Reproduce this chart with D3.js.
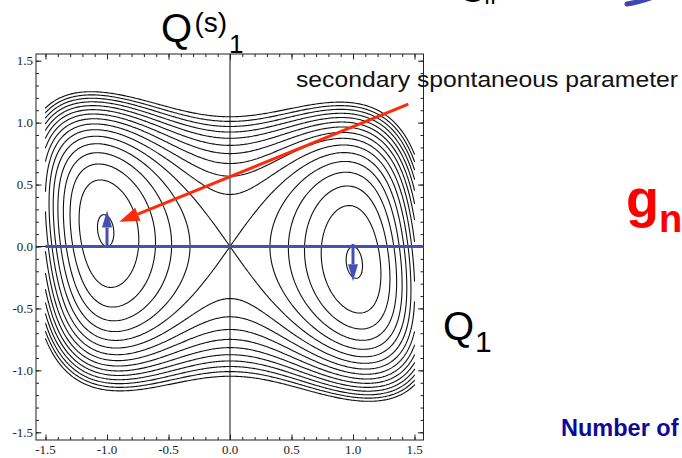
<!DOCTYPE html>
<html lang="en">
<head>
<meta charset="UTF-8">
<title>Q1 contour</title>
<script src="https://d3js.org/d3.v7.min.js"></script>
<style>
  body { margin: 0; background: #fff; }
  svg { display: block; }
</style>
</head>
<body>
<svg width="682" height="458"></svg>
<script>
// labelled ticks
const xTicks = [-1.5, -1.0, -0.5, 0.0, 0.5, 1.0, 1.5];
const yTicks = [-1.5, -1.0, -0.5, 0.0, 0.5, 1.0, 1.5];
// contour levels drawn
const levels = [0.0, 0.2, 0.4, 0.6, 0.8, 1.0, 1.2, 1.4, 1.6, 1.8, 2.0, 2.2, 2.4, 2.6, 2.8, 3.0];
// potential: double well in Q1, stiffness in Q(s)1 (y^2, y^4), x^3*y coupling
const wellPos = [-1, 1];
const yStiff = [1.0, 0.75];
const coupling = [0.26];
// blue arrows at the minima
const arrowX = [-1.0, 1.0];
const arrowFrom = [0.0, 0.02];
const arrowTo = [0.29, -0.28];
// red pointer, tail then head
const pointerX = [1.45, -0.9];
const pointerY = [1.15, 0.2];

const svg = d3.select('svg');

const x = d3.scaleLinear().domain([-1.5, 1.5]).range([45.5, 414.5]);
const y = d3.scaleLinear().domain([-1.5, 1.5]).range([432.3, 60.7]);
const frame = { left: 36, right: 423.5, top: 54, bottom: 440 };

function V(q, s) {
  return (q - wellPos[0]) ** 2 * (q - wellPos[1]) ** 2
    + yStiff[0] * s * s + yStiff[1] * s ** 4 + coupling[0] * q ** 3 * s;
}

// sample the potential on a grid
const n = 301;
const gx = d3.scaleLinear().domain([0.5, n - 0.5]).range([-1.5, 1.5]).clamp(true);
const gy = d3.scaleLinear().domain([0.5, n - 0.5]).range([-1.5, 1.5]).clamp(true);
const values = new Float64Array(n * n);
for (let j = 0; j < n; j++) {
  for (let i = 0; i < n; i++) {
    values[j * n + i] = V(gx(i + 0.5), gy(j + 0.5));
  }
}
const contours = d3.contours().size([n, n]).thresholds(levels)(values);

// drop the pieces that run along the grid border, so outer lines stay open
const eps = 1e-6;
function edgeSeg(a, b) {
  return (a[0] <= eps && b[0] <= eps) || (a[0] >= n - eps && b[0] >= n - eps)
    || (a[1] <= eps && b[1] <= eps) || (a[1] >= n - eps && b[1] >= n - eps);
}
const px = p => x(gx(p[0])).toFixed(2) + ',' + y(gy(p[1])).toFixed(2);
function ringPath(ring) {
  let d = '', pen = false;
  for (let i = 0; i < ring.length; i++) {
    const a = ring[i], b = ring[(i + 1) % ring.length];
    if (edgeSeg(a, b)) { pen = false; continue; }
    if (!pen) { d += 'M' + px(a); pen = true; }
    d += 'L' + px(b);
  }
  return d;
}

// axis lines through the origin
svg.append('line')
  .attr('x1', x(0)).attr('x2', x(0)).attr('y1', frame.top).attr('y2', frame.bottom)
  .attr('stroke', '#111').attr('stroke-width', 1);
svg.append('line')
  .attr('x1', frame.left).attr('x2', frame.right).attr('y1', y(0)).attr('y2', y(0))
  .attr('stroke', '#111').attr('stroke-width', 1);

svg.append('g')
  .selectAll('path')
  .data(contours)
  .join('path')
  .attr('d', c => c.coordinates.flat(1).map(ringPath).join(''))
  .attr('fill', 'none')
  .attr('stroke', '#111')
  .attr('stroke-width', 1.1)
  .attr('stroke-linejoin', 'round');

// frame and inward ticks
svg.append('rect')
  .attr('x', frame.left).attr('y', frame.top)
  .attr('width', frame.right - frame.left).attr('height', frame.bottom - frame.top)
  .attr('fill', 'none').attr('stroke', '#222').attr('stroke-width', 1);

const minor = x.ticks(30);
function ticks(axis, vals, size, tr) {
  svg.append('g')
    .attr('transform', tr)
    .call(axis.tickValues(vals).tickSize(size).tickFormat(''))
    .call(g => g.select('.domain').remove())
    .call(g => g.selectAll('line').attr('stroke', '#222'));
}
ticks(d3.axisLeft(y), minor, -3, `translate(${frame.left},0)`);
ticks(d3.axisLeft(y), yTicks, -5.5, `translate(${frame.left},0)`);
ticks(d3.axisRight(y), minor, -3, `translate(${frame.right},0)`);
ticks(d3.axisRight(y), yTicks, -5.5, `translate(${frame.right},0)`);
ticks(d3.axisBottom(x), minor, -3, `translate(0,${frame.bottom})`);
ticks(d3.axisBottom(x), xTicks, -5.5, `translate(0,${frame.bottom})`);
ticks(d3.axisTop(x), minor, -3, `translate(0,${frame.top})`);
ticks(d3.axisTop(x), xTicks, -5.5, `translate(0,${frame.top})`);

const tickFont = "'Liberation Serif', 'Times New Roman', serif";
svg.append('g').selectAll('text').data(yTicks).join('text')
  .attr('x', 33).attr('y', d => y(d) + 4.5)
  .attr('text-anchor', 'end')
  .attr('font-family', tickFont).attr('font-size', 13)
  .attr('fill', '#222')
  .text(d => d.toFixed(1));
svg.append('g').selectAll('text').data(xTicks).join('text')
  .attr('x', d => x(d)).attr('y', 454)
  .attr('text-anchor', 'middle')
  .attr('font-family', tickFont).attr('font-size', 13)
  .attr('fill', '#222')
  .text(d => d.toFixed(1));

// blue line along Q1 and the arrows at the minima
const blue = '#4450b2';
svg.append('line')
  .attr('x1', x(-1.5)).attr('x2', frame.right).attr('y1', y(0)).attr('y2', y(0))
  .attr('stroke', blue).attr('stroke-width', 3);

function arrow(x1, y1, x2, y2, color, w, len, half) {
  const a = Math.atan2(y2 - y1, x2 - x1);
  const bx = x2 - len * Math.cos(a), by = y2 - len * Math.sin(a);
  svg.append('line')
    .attr('x1', x1).attr('y1', y1).attr('x2', bx).attr('y2', by)
    .attr('stroke', color).attr('stroke-width', w);
  const pts = [
    [x2, y2],
    [bx + half * Math.sin(a), by - half * Math.cos(a)],
    [bx - half * Math.sin(a), by + half * Math.cos(a)]
  ];
  svg.append('path').attr('d', 'M' + pts.join('L') + 'Z').attr('fill', color);
}
arrowX.forEach((ax, i) => arrow(x(ax), y(arrowFrom[i]), x(ax), y(arrowTo[i]), blue, 3, 17, 5));

arrow(x(pointerX[0]), y(pointerY[0]), x(pointerX[1]), y(pointerY[1]), '#ff2a0a', 3, 20, 7);

// texts
const sans = "'Liberation Sans', Arial, Helvetica, sans-serif";
svg.append('text')
  .attr('x', 296).attr('y', 87)
  .attr('font-family', sans).attr('font-size', 22)
  .attr('textLength', 382).attr('lengthAdjust', 'spacingAndGlyphs')
  .attr('fill', '#111')
  .text('secondary spontaneous parameter');

svg.append('text').attr('x', 161).attr('y', 42)
  .attr('font-family', sans).attr('font-size', 40).attr('fill', '#000').text('Q');
svg.append('text').attr('x', 194.5).attr('y', 32)
  .attr('font-family', sans).attr('font-size', 28).attr('fill', '#000').text('(s)');
svg.append('text').attr('x', 229).attr('y', 53)
  .attr('font-family', sans).attr('font-size', 26).attr('fill', '#000').text('1');

svg.append('text').attr('x', 443).attr('y', 340)
  .attr('font-family', sans).attr('font-size', 40).attr('fill', '#000').text('Q');
svg.append('text').attr('x', 475).attr('y', 352)
  .attr('font-family', sans).attr('font-size', 30).attr('fill', '#000').text('1');

svg.append('text').attr('x', 626).attr('y', 216.5)
  .attr('font-family', sans).attr('font-size', 54).attr('font-weight', 'bold')
  .attr('fill', '#ff0000').text('g');
svg.append('text').attr('x', 659).attr('y', 232)
  .attr('font-family', sans).attr('font-size', 38).attr('font-weight', 'bold')
  .attr('fill', '#ff0000').text('n');

svg.append('text').attr('x', 561).attr('y', 436)
  .attr('font-family', sans).attr('font-size', 23.5).attr('font-weight', 'bold')
  .attr('fill', '#0b0b98').text('Number of');

// cut-off pieces at the top edge
svg.append('text').attr('x', 459).attr('y', 2)
  .attr('font-family', sans).attr('font-size', 34).attr('fill', '#000').text('G');
svg.append('text').attr('x', 484).attr('y', 4)
  .attr('font-family', sans).attr('font-size', 22).attr('fill', '#000').text('II');
svg.append('path')
  .attr('d', 'M627,4Q640,2 656,-4')
  .attr('fill', 'none').attr('stroke', '#3c46b4').attr('stroke-width', 5)
  .attr('stroke-linecap', 'round');
</script>
</body>
</html>
